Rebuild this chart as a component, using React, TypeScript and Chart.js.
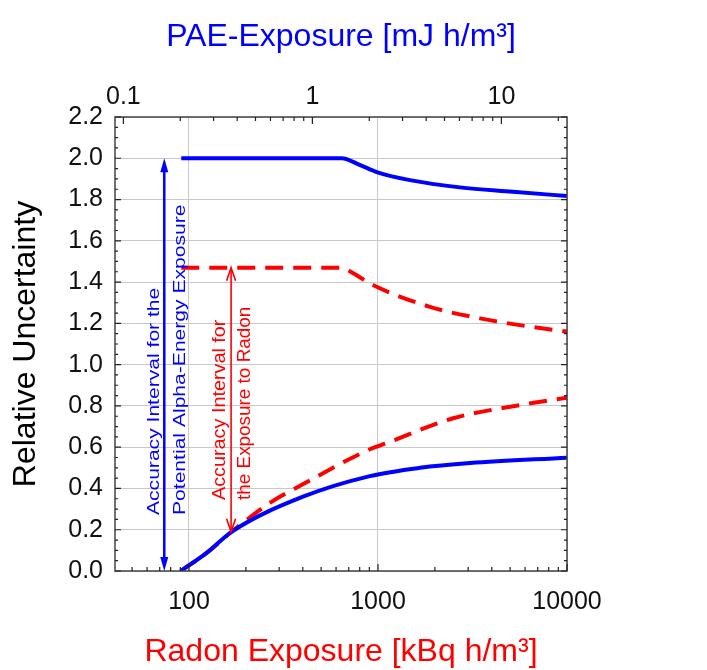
import React, { useEffect, useRef } from "react";
import { Chart, registerables } from "chart.js";

Chart.register(...registerables);

// ---- Data (Radon exposure in kBq h/m³ on the bottom axis) ----
const PAE_UPPER_X = [91, 200, 400, 643, 800, 985, 1476, 2716, 5176, 10000];
const PAE_UPPER_Y = [2.0, 2.0, 2.0, 2.0, 1.968, 1.933, 1.894, 1.859, 1.838, 1.817];

const PAE_LOWER_X = [90.5, 125, 168, 401, 906, 1667, 3070, 10000];
const PAE_LOWER_Y = [0.0, 0.09, 0.19, 0.36, 0.46, 0.5, 0.523, 0.549];

const RADON_UPPER_X = [91, 200, 400, 643, 685, 940, 1884, 3470, 6370, 10000];
const RADON_UPPER_Y = [1.47, 1.47, 1.47, 1.47, 1.46, 1.386, 1.28, 1.224, 1.184, 1.16];

const RADON_LOWER_X = [90.5, 125, 168, 268, 400, 906, 1112, 2496, 5636, 10000];
const RADON_LOWER_Y = [0.0, 0.09, 0.19, 0.33, 0.42, 0.59, 0.62, 0.74, 0.804, 0.84];

// Axis ranges and ticks
const X_MIN = 40.6;
const X_MAX = 10000;
const PAE_PER_KBQ = 0.002224; // mJ h/m³ per kBq h/m³ (F = 0.4)
const BOTTOM_TICKS = [100, 1000, 10000];
const TOP_TICKS = [0.1, 1, 10];
const Y_MIN = 0;
const Y_MAX = 2.2;
const Y_STEP = 0.2;

// Annotation arrows
const PAE_ARROW_X = 74;
const PAE_ARROW_Y = [0.0, 2.0];
const RADON_ARROW_X = 167;
const RADON_ARROW_Y = [0.19, 1.47];

const PAE_TEXT = ["Accuracy Interval for the", "Potential Alpha-Energy Exposure"];
const RADON_TEXT = ["Accuracy Interval for", "the Exposure to Radon"];

const TITLE_TOP = "PAE-Exposure [mJ h/m³]";
const TITLE_BOTTOM = "Radon Exposure [kBq h/m³]";
const TITLE_Y = "Relative Uncertainty";

const FONT = '"Liberation Sans", Arial, sans-serif';
const BLUE = "#0000ff";
const RED = "#ff0000";

function pts(xs: number[], ys: number[]) {
  return xs.map((x, i) => ({ x, y: ys[i] }));
}

function logMinor(min: number, max: number): number[] {
  const out: number[] = [];
  const d0 = Math.floor(Math.log10(min));
  const d1 = Math.ceil(Math.log10(max));
  for (let d = d0; d <= d1; d++) {
    for (let m = 1; m <= 9; m++) {
      const v = m * Math.pow(10, d);
      if (v >= min * 0.999 && v <= max * 1.001) out.push(v);
    }
  }
  return out;
}

function drawArrowHead(ctx: CanvasRenderingContext2D, x: number, y: number, dir: number, len: number, half: number, filled: boolean) {
  ctx.beginPath();
  ctx.moveTo(x - half, y - dir * len);
  ctx.lineTo(x, y);
  ctx.lineTo(x + half, y - dir * len);
  if (filled) {
    ctx.closePath();
    ctx.fill();
  } else {
    ctx.stroke();
  }
}

const decorPlugin = {
  id: "decor",
  afterDraw(chart: any) {
    const { ctx, chartArea: a, scales } = chart;
    const xs = scales.x;
    const xt = scales.x2;
    const ys = scales.y;
    ctx.save();

    // Frame
    ctx.strokeStyle = "#444";
    ctx.lineWidth = 1.5;
    ctx.strokeRect(a.left, a.top, a.right - a.left, a.bottom - a.top);

    // Inward tick marks
    ctx.lineWidth = 1.2;
    ctx.strokeStyle = "#222";
    ctx.beginPath();
    logMinor(X_MIN, X_MAX).forEach((v) => {
      const px = xs.getPixelForValue(v);
      const major = Math.abs(Math.log10(v) - Math.round(Math.log10(v))) < 1e-6;
      const L = major ? 7 : 4;
      ctx.moveTo(px, a.bottom);
      ctx.lineTo(px, a.bottom - L);
    });
    logMinor(X_MIN * PAE_PER_KBQ, X_MAX * PAE_PER_KBQ).forEach((v) => {
      const px = xt.getPixelForValue(v);
      const major = Math.abs(Math.log10(v) - Math.round(Math.log10(v))) < 1e-6;
      const L = major ? 7 : 4;
      ctx.moveTo(px, a.top);
      ctx.lineTo(px, a.top + L);
    });
    for (let i = 0; i <= 44; i++) {
      const v = i * 0.05;
      const py = ys.getPixelForValue(v);
      const L = i % 4 === 0 ? 6 : 3;
      ctx.moveTo(a.left, py);
      ctx.lineTo(a.left + L, py);
      ctx.moveTo(a.right, py);
      ctx.lineTo(a.right - L, py);
    }
    ctx.stroke();

    // Arrows
    const bx = xs.getPixelForValue(PAE_ARROW_X);
    const by0 = ys.getPixelForValue(PAE_ARROW_Y[0]);
    const by1 = ys.getPixelForValue(PAE_ARROW_Y[1]);
    ctx.strokeStyle = BLUE;
    ctx.fillStyle = BLUE;
    ctx.lineWidth = 2.5;
    ctx.beginPath();
    ctx.moveTo(bx, by0 - 8);
    ctx.lineTo(bx, by1 + 8);
    ctx.stroke();
    drawArrowHead(ctx, bx, by1, -1, 14, 4, true);
    drawArrowHead(ctx, bx, by0, 1, 14, 4, true);

    const rx = xs.getPixelForValue(RADON_ARROW_X);
    const ry0 = ys.getPixelForValue(RADON_ARROW_Y[0]);
    const ry1 = ys.getPixelForValue(RADON_ARROW_Y[1]);
    ctx.strokeStyle = RED;
    ctx.fillStyle = RED;
    ctx.lineWidth = 1.6;
    ctx.beginPath();
    ctx.moveTo(rx, ry0);
    ctx.lineTo(rx, ry1);
    ctx.stroke();
    drawArrowHead(ctx, rx, ry1, -1, 13, 4.5, false);
    drawArrowHead(ctx, rx, ry0, 1, 13, 4.5, false);

    // Rotated annotation texts
    const rotText = (t: string, x: number, y: number, color: string, size: number, sx: number) => {
      ctx.save();
      ctx.translate(x, y);
      ctx.rotate(-Math.PI / 2);
      ctx.scale(sx, 1);
      ctx.fillStyle = color;
      ctx.font = `${size}px ${FONT}`;
      ctx.textAlign = "left";
      ctx.textBaseline = "middle";
      ctx.fillText(t, 0, 0);
      ctx.restore();
    };
    rotText(PAE_TEXT[0], bx - 10, 515, BLUE, 17, 1.24);
    rotText(PAE_TEXT[1], bx + 16, 515, BLUE, 17, 1.24);
    rotText(RADON_TEXT[0], rx - 11, 500, RED, 18, 1.1);
    rotText(RADON_TEXT[1], rx + 14, 500, RED, 18, 1.05);

    // Titles
    const cx = (a.left + a.right) / 2;
    ctx.font = `32px ${FONT}`;
    ctx.textAlign = "center";
    ctx.textBaseline = "middle";
    ctx.fillStyle = BLUE;
    ctx.fillText(TITLE_TOP, cx, 37);
    ctx.fillStyle = RED;
    ctx.fillText(TITLE_BOTTOM, cx, 652);
    ctx.save();
    ctx.translate(26, (a.top + a.bottom) / 2);
    ctx.rotate(-Math.PI / 2);
    ctx.fillStyle = "#000";
    ctx.fillText(TITLE_Y, 0, 0);
    ctx.restore();

    ctx.restore();
  },
};

export default function App() {
  const ref = useRef<HTMLCanvasElement | null>(null);

  useEffect(() => {
    if (!ref.current) return;
    const tickFont = { family: FONT, size: 25 };
    const chart = new Chart(ref.current, {
      type: "line",
      data: {
        datasets: [
          {
            label: "PAE upper",
            data: pts(PAE_UPPER_X, PAE_UPPER_Y),
            borderColor: BLUE,
            borderWidth: 4,
            pointRadius: 0,
            cubicInterpolationMode: "monotone",
            xAxisID: "x",
            yAxisID: "y",
          },
          {
            label: "PAE lower",
            data: pts(PAE_LOWER_X, PAE_LOWER_Y),
            borderColor: BLUE,
            borderWidth: 4,
            pointRadius: 0,
            cubicInterpolationMode: "monotone",
            xAxisID: "x",
            yAxisID: "y",
          },
          {
            label: "Radon upper",
            data: pts(RADON_UPPER_X, RADON_UPPER_Y),
            borderColor: RED,
            borderWidth: 4,
            borderDash: [18, 10],
            pointRadius: 0,
            cubicInterpolationMode: "monotone",
            xAxisID: "x",
            yAxisID: "y",
          },
          {
            label: "Radon lower",
            data: pts(RADON_LOWER_X, RADON_LOWER_Y),
            borderColor: RED,
            borderWidth: 4,
            borderDash: [18, 10],
            pointRadius: 0,
            cubicInterpolationMode: "monotone",
            xAxisID: "x",
            yAxisID: "y",
          },
        ],
      },
      options: {
        animation: false,
        responsive: false,
        maintainAspectRatio: false,
        layout: { padding: { left: 0, right: 140, top: 0, bottom: 0 } },
        plugins: { legend: { display: false }, tooltip: { enabled: false } },
        scales: {
          x: {
            type: "logarithmic",
            position: "bottom",
            min: X_MIN,
            max: X_MAX,
            afterBuildTicks: (s: any) => {
              s.ticks = BOTTOM_TICKS.map((v) => ({ value: v }));
            },
            afterFit: (s: any) => {
              s.height = 99;
            },
            ticks: {
              autoSkip: false,
              maxRotation: 0,
              padding: 16,
              color: "#111",
              font: tickFont,
              callback: (v: any) => String(v),
            },
            grid: { color: "#c8c8c8", lineWidth: 1, drawTicks: false },
            border: { display: false },
          },
          x2: {
            type: "logarithmic",
            position: "top",
            min: X_MIN * PAE_PER_KBQ,
            max: X_MAX * PAE_PER_KBQ,
            afterBuildTicks: (s: any) => {
              s.ticks = TOP_TICKS.map((v) => ({ value: v }));
            },
            afterFit: (s: any) => {
              s.height = 117;
            },
            ticks: {
              autoSkip: false,
              maxRotation: 0,
              padding: 5,
              color: "#111",
              font: tickFont,
              callback: (v: any) => String(v),
            },
            grid: { display: false, drawTicks: false },
            border: { display: false },
          },
          y: {
            type: "linear",
            position: "left",
            min: Y_MIN,
            max: Y_MAX,
            afterFit: (s: any) => {
              s.width = 115;
            },
            ticks: {
              stepSize: Y_STEP,
              padding: 12,
              color: "#111",
              font: tickFont,
              callback: (v: any) => Number(v).toFixed(1),
            },
            grid: { color: "#c8c8c8", lineWidth: 1, drawTicks: false },
            border: { display: false },
          },
        },
      },
      plugins: [decorPlugin],
    } as any);
    return () => chart.destroy();
  }, []);

  return (
    <div style={{ position: "fixed", left: 0, top: 0, width: 707, height: 670, background: "#fff" }}>
      <canvas ref={ref} width={707} height={670} style={{ width: 707, height: 670, display: "block" }} />
    </div>
  );
}
